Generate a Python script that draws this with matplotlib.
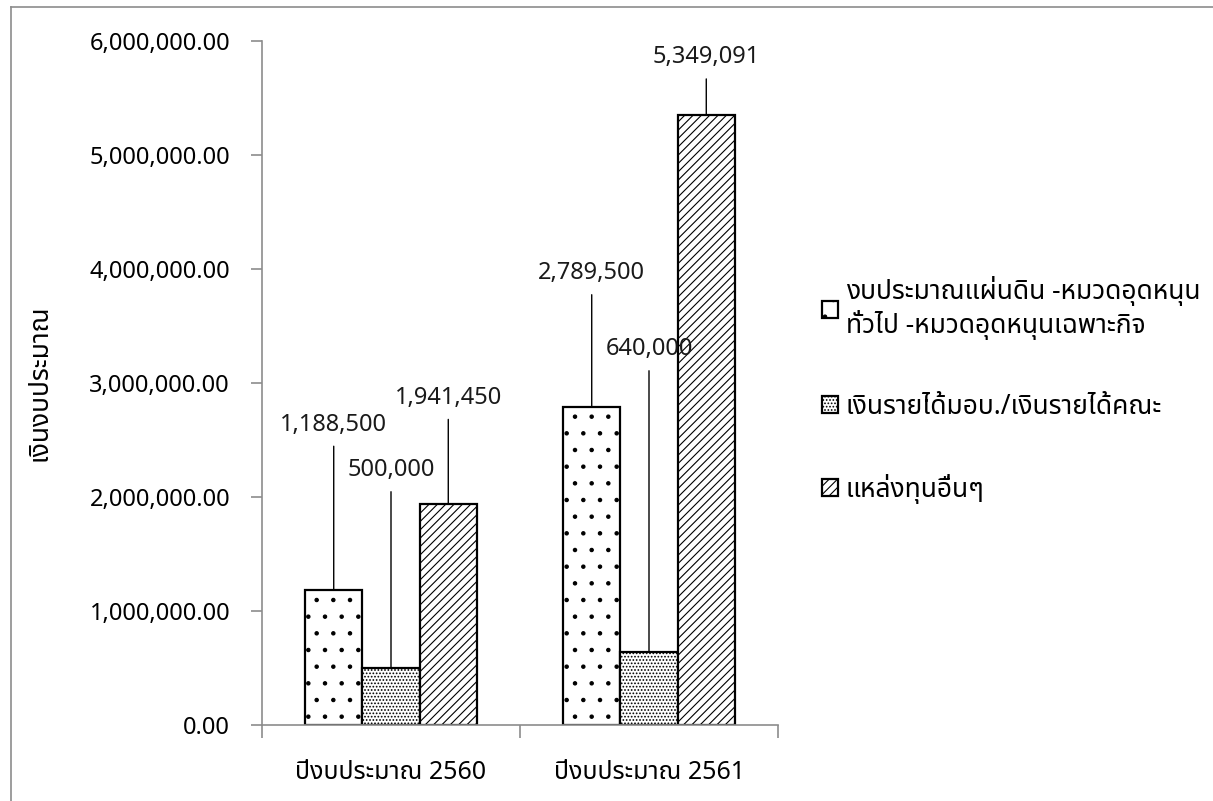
import matplotlib
matplotlib.use("Agg")
import matplotlib.pyplot as plt
from matplotlib.lines import Line2D
from matplotlib.ticker import FuncFormatter, FixedLocator
import numpy as np

plt.rcParams["font.family"] = ["Noto Sans", "Noto Sans Thai", "Sarabun", "Loma", "DejaVu Sans"]
plt.rcParams["hatch.linewidth"] = 0.8

categories = ["ปีงบประมาณ 2560", "ปีงบประมาณ 2561"]
series_names = [
    "งบประมาณแผ่นดิน -หมวดอุดหนุน\nทั่วไป -หมวดอุดหนุนเฉพาะกิจ",
    "เงินรายได้มอบ./เงินรายได้คณะ",
    "แหล่งทุนอื่นๆ",
]
state_budget = [1188500, 2789500]
income = [500000, 640000]
other_sources = [1941450, 5349091]
y_label = "เงินงบประมาณ"

# label offsets above each bar top, in pixels (per series, per category)
label_offsets = [[165, 134], [198, 303], [106, 58]]
hatches = [".", ".....", "////"]

fig = plt.figure(figsize=(12.13, 8.01), dpi=100)
ax = fig.add_axes([262 / 1213, 76 / 801, 516 / 1213, 684 / 801])

x = np.arange(len(categories))
width = 0.222
series = [state_budget, income, other_sources]
for i, (name, vals) in enumerate(zip(series_names, series)):
    pos = x + (i - 1) * width
    ax.bar(pos, vals, width, color="white", edgecolor="black", linewidth=1.6,
           hatch=hatches[i], label=name)
    for xp, v, off in zip(pos, vals, label_offsets[i]):
        ax.annotate(f"{v:,.0f}", xy=(xp, v), xytext=(0, off), textcoords="offset pixels",
                    ha="center", va="center", fontsize=17, color="#1a1a1a",
                    arrowprops=dict(arrowstyle="-", color="black", lw=1.0,
                                    relpos=(0.5, 0.0), shrinkA=5, shrinkB=0))

ax.set_xlim(-0.5, 1.5)
ax.set_ylim(0, 6000000)
ax.yaxis.set_major_formatter(FuncFormatter(lambda v, p: f"{v:,.2f}"))
ax.set_yticks(np.arange(0, 6000001, 1000000))
ax.set_xticks(x)
ax.set_xticklabels(categories, fontsize=18)
ax.xaxis.set_minor_locator(FixedLocator([-0.5, 0.5, 1.5]))
ax.tick_params(axis="x", which="major", length=0, pad=25)
ax.tick_params(axis="x", which="minor", length=9, color="#8c8c8c", width=1.2)
ax.tick_params(axis="y", length=8, color="#8c8c8c", width=1.2, labelsize=17, pad=15)
for s in ("top", "right"):
    ax.spines[s].set_visible(False)
for s in ("left", "bottom"):
    ax.spines[s].set_color("#8c8c8c")
    ax.spines[s].set_linewidth(1.2)
ax.set_ylabel(y_label, fontsize=19, labelpad=26)

ax.legend(loc="center left", bbox_to_anchor=(1.085, 0.49), frameon=False, fontsize=19,
          borderpad=0, borderaxespad=0,
          handlelength=0.6, handleheight=0.6, handletextpad=0.3, labelspacing=2.0)

# chart area border
fig.add_artist(Line2D([10.5 / 1213, 10.5 / 1213], [0, 794 / 801], transform=fig.transFigure,
                      color="#8c8c8c", lw=1.2))
fig.add_artist(Line2D([10.5 / 1213, 1], [794 / 801, 794 / 801], transform=fig.transFigure,
                      color="#8c8c8c", lw=1.2))

fig.savefig("out.png", dpi=100)
